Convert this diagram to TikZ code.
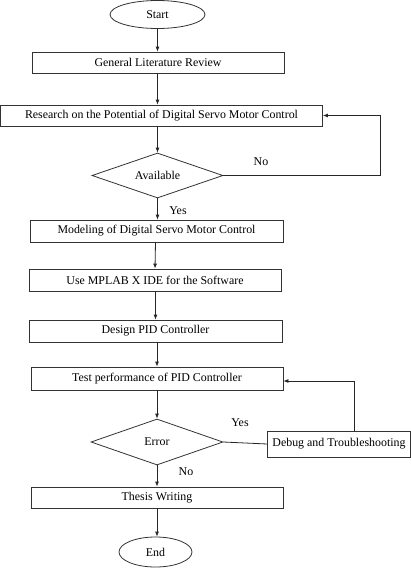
\documentclass[tikz,border=0pt]{standalone}
\usepackage{fontspec}
\setmainfont{Liberation Serif}
\usetikzlibrary{shapes.geometric,arrows.meta}
\begin{document}
\begin{tikzpicture}[x=1pt,y=-1pt,
  font=\fontsize{11.9}{14}\selectfont,
  every node/.style={inner sep=0pt},
  procbox/.style={draw=black!80,line width=0.8pt,rectangle,minimum height=#1},
  procbox/.default=21pt,
  term/.style={draw=black!80,line width=0.8pt,ellipse},
  decide/.style={draw=black!80,line width=0.8pt,diamond},
  arr/.style={draw=black!85,line width=0.8pt,-{Latex[length=5pt,width=4pt]}},
  ln/.style={draw=black!85,line width=0.8pt},
  lbl/.style={font=\fontsize{11.9}{14}\selectfont}]
\useasboundingbox (0,0) rectangle (411,574);
\node[term,minimum width=95pt,minimum height=28pt] (start) at (157.5,14.5) {Start};
\node[procbox,minimum width=252pt] (glr) at (158,62.5) {General Literature Review};
\node[procbox,minimum width=322pt] (res) at (161.5,115.5) {Research on the Potential of Digital Servo Motor Control};
\node[decide,minimum width=131pt,minimum height=45pt,aspect=2.9] (avail) at (157.5,175.5) {Available};
\node[procbox=22pt,minimum width=253pt] (model) at (156.5,231) {Modeling of Digital Servo Motor Control};
\node[procbox=22pt,minimum width=252pt] (mplab) at (155,280) {Use MPLAB X IDE for the Software};
\node[procbox=22pt,minimum width=253pt] (design) at (155.5,331) {Design PID Controller};
\node[procbox=23pt,minimum width=252pt] (test) at (157,378.5) {Test performance of PID Controller};
\node[decide,minimum width=132pt,minimum height=46pt,aspect=2.9] (error) at (157,442) {Error};
\node[procbox=26pt,minimum width=143pt] (debug) at (339,444) {Debug and Troubleshooting};
\node[procbox,minimum width=252pt] (thesis) at (157,497.5) {Thesis Writing};
\node[term,minimum width=73pt,minimum height=30pt] (end) at (155.5,552) {End};
\coordinate (r1) at (380,175.5);
\coordinate (r2) at (354,381);
\draw[arr] (start.south) -- (glr.north -| start.south);
\draw[arr] (glr.south -| start.south) -- (res.north -| start.south);
\draw[arr] (res.south -| avail.north) -- (avail.north);
\draw[arr] (avail.south) -- (model.north -| avail.south);
\draw[arr] (avail.east) -- (r1) |- (res.east);
\draw[arr] (model.south -| mplab.north) ++(0.5,0) -- (mplab.north);
\draw[arr] (mplab.south -| design.north) -- (design.north);
\draw[arr] (design.south -| test.north) -- (test.north);
\draw[arr] (test.south -| error.north) -- (error.north);
\draw[ln] (error.east) -- (debug.west);
\draw[arr] (debug.north -| r2) -- (r2) -- (test.east |- r2);
\draw[arr] (error.south) -- (thesis.north -| error.south);
\draw[arr] (thesis.south -| error.south) -- (end.north -| error.south);
\node[lbl] (no1) at (261,162) {No};
\node[lbl] (yes1) at (178,211) {Yes};
\node[lbl] (yes2) at (240,423) {Yes};
\node[lbl] (no2) at (186,472) {No};
\end{tikzpicture}
\end{document}
